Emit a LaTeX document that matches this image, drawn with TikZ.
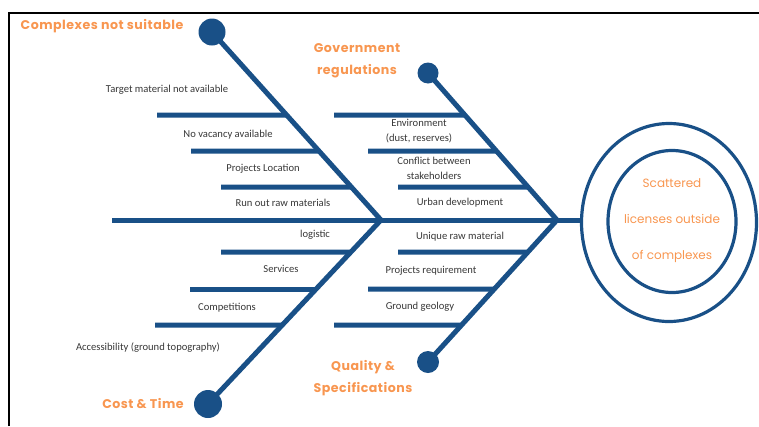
\documentclass[tikz,border=0pt]{standalone}
\usepackage{fontspec}
\setmainfont{Carlito}
\newfontfamily\headfont{Poppins}
\newfontfamily\headfontwide{Poppins}[LetterSpace=4]
\usetikzlibrary{calc}
\definecolor{bone}{RGB}{25,80,135}
\definecolor{headorange}{RGB}{248,150,80}
\definecolor{labelgrey}{RGB}{55,55,55}

\begin{document}
\begin{tikzpicture}[x=1pt,y=-1pt,
  bonestroke/.style={draw=bone, line width=5pt, line join=miter},
  ribline/.style={draw=bone, line width=5pt},
  knob/.style={circle, fill=bone, inner sep=0pt, minimum size=#1},
  cause/.style={font=\fontsize{10.6}{15}\selectfont, text=labelgrey, inner sep=0pt, align=center},
  head/.style={font=\headfontwide\bfseries\fontsize{12.6}{22}\selectfont, text=headorange, align=center, inner sep=0pt},
  effect/.style={font=\headfont\fontsize{12}{36}\selectfont, text=headorange, align=center, inner sep=0pt},
]
\useasboundingbox (0,0) rectangle (759,426);

% frame
\draw[line width=2pt] (9,426) -- (9,12.5) -- (759,12.5);

% effect head
\draw[bone, line width=3.2pt] (669,222.5) ellipse [x radius=87.5, y radius=99];
\draw[bone, line width=3.2pt] (672,221.5) ellipse [x radius=64, y radius=71];
\coordinate (E) at (581,220);
\node[effect] (effect) at (672,221) {Scattered\\licenses outside\\of complexes};

% spine
\coordinate (S0) at (112,220);
\draw[ribline] (S0) -- (E);

% bone ends
\node[knob=27pt] (C1) at (212,32) {};
\node[knob=28pt] (C2) at (208,404) {};
\node[knob=21pt] (C3) at (428,73) {};
\node[knob=22pt] (C4) at (428,362) {};
\coordinate (J1) at (381,220);
\coordinate (J2) at (557,220);

\draw[bonestroke] (C1.center) -- (J1) -- (C2.center);
\draw[bonestroke] (C3.center) -- (J2) -- (C4.center);

% left ribs (upper bone)
\coordinate (a1) at (157,115);
\coordinate (a2) at (191,151);
\coordinate (a3) at (221,187);
\draw[ribline] (a1) -- ($(J1)!{(220-115)/188}!(C1.center)$);
\draw[ribline] (a2) -- ($(J1)!{(220-151)/188}!(C1.center)$);
\draw[ribline] (a3) -- ($(J1)!{(220-187)/188}!(C1.center)$);
% left ribs (lower bone)
\coordinate (b1) at (221,252);
\coordinate (b2) at (190,289);
\coordinate (b3) at (155,325);
\draw[ribline] (b1) -- ($(J1)!{(252-220)/184}!(C2.center)$);
\draw[ribline] (b2) -- ($(J1)!{(289-220)/184}!(C2.center)$);
\draw[ribline] (b3) -- ($(J1)!{(325-220)/184}!(C2.center)$);
% right ribs (upper bone)
\coordinate (c1) at (334,115);
\coordinate (c2) at (368,151);
\coordinate (c3) at (398,187);
\draw[ribline] (c1) -- ($(J2)!{(220-115)/147}!(C3.center)$);
\draw[ribline] (c2) -- ($(J2)!{(220-151)/147}!(C3.center)$);
\draw[ribline] (c3) -- ($(J2)!{(220-187)/147}!(C3.center)$);
% right ribs (lower bone)
\coordinate (d1) at (398,252);
\coordinate (d2) at (368,289);
\coordinate (d3) at (334,325);
\draw[ribline] (d1) -- ($(J2)!{(252-220)/142}!(C4.center)$);
\draw[ribline] (d2) -- ($(J2)!{(289-220)/142}!(C4.center)$);
\draw[ribline] (d3) -- ($(J2)!{(325-220)/142}!(C4.center)$);

% category headings
\node[head] (h1) at (102,26) {Complexes not suitable};
\node[head] (h2) at (357,61) {Government\\regulations};
\node[head] (h3) at (143,404) {Cost \& Time};
\node[head] (h4) at (363,378) {Quality \&\\Specifications};

% causes
\node[cause] (l1) at (167,90) {Target material not available};
\node[cause] (l2) at (228,135) {No vacancy available};
\node[cause] (l3) at (263,169) {Projects Location};
\node[cause] (l4) at (283,203) {Run out raw materials};
\node[cause] (l5) at (315,235) {logistic};
\node[cause] (l6) at (281,269) {Services};
\node[cause] (l7) at (227,308) {Competitions};
\node[cause] (l8) at (148,348) {Accessibility (ground topography)};

\node[cause] (r1) at (419,131) {Environment\\(dust, reserves)};
\node[cause] (r2) at (434,168) {Conflict between\\stakeholders};
\node[cause] (r3) at (460,203) {Urban development};
\node[cause] (r4) at (460,237) {Unique raw material};
\node[cause] (r5) at (431,271) {Projects requirement};
\node[cause] (r6) at (420,307) {Ground geology};
\end{tikzpicture}
\end{document}
